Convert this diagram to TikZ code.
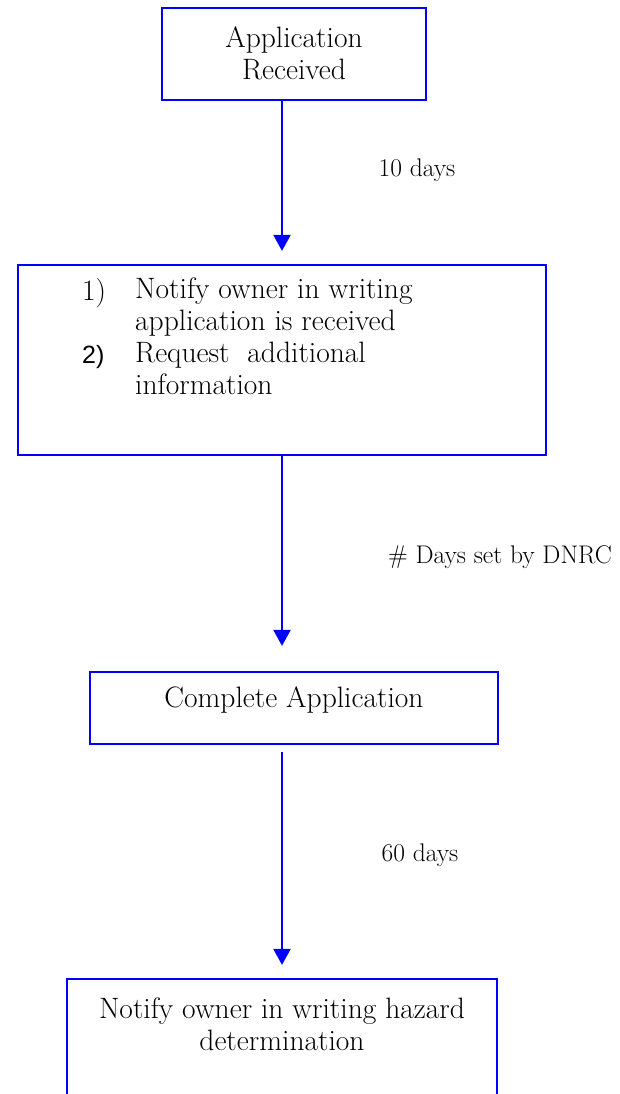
\documentclass[tikz,border=0pt]{standalone}
\usepackage{fontspec}
\newfontfamily\arialfont{Liberation Sans}
\usetikzlibrary{arrows.meta}
\begin{document}
\begin{tikzpicture}[x=1pt,y=-1pt,
  box/.style={draw=blue,line width=2.2pt,inner sep=0pt},
  txt/.style={inner sep=0pt,align=center,font=\fontsize{29.5}{32}\selectfont},
  lbl/.style={inner sep=0pt,font=\fontsize{25.5}{30}\selectfont},
  arr/.style={draw=blue,line width=2.2pt,-{Triangle[width=17pt,length=16pt]}}]
\useasboundingbox (0,0) rectangle (619,1094);
\clip (0,0) rectangle (619,1094);
% boxes
\node[box,minimum width=264pt,minimum height=92pt] (b1) at (294,54) {};
\node[box,minimum width=528pt,minimum height=190pt] (b2) at (282,360) {};
\node[box,minimum width=408pt,minimum height=72pt] (b3) at (294,708) {};
\node[box,minimum width=430pt,minimum height=160pt] (b4) at (282,1059) {};
% texts
\node[txt] (t1) at (294,53) {Application\\Received};
\node[txt,anchor=west] (n1) at (82,293) {1)};
\node[txt,anchor=west] (n2) at (82,357) {\arialfont\fontsize{25}{32}\selectfont 2)};
\node[txt,anchor=north west,align=left] (t2) at (135,278) {Notify owner in writing\\application is received\\Request\ \ additional\\information};
\node[txt] (t3) at (294,700) {Complete Application};
\node[txt] (t4) at (282,1024) {Notify owner in writing hazard\\determination};
% connectors
\draw[arr,shorten >=13pt] (b1.south -| b2.north) -- (b2.north);
\draw[arr,shorten >=25pt] (b2.south) -- (b2.south |- b3.north);
\draw[arr,shorten <=7pt,shorten >=13pt] (b3.south -| b2.south) -- (b4.north);
% labels
\node[lbl] (l1) at (417,170) {10 days};
\node[lbl] (l2) at (500,557) {\# Days set by DNRC};
\node[lbl] (l3) at (420,855) {60 days};
\end{tikzpicture}
\end{document}
